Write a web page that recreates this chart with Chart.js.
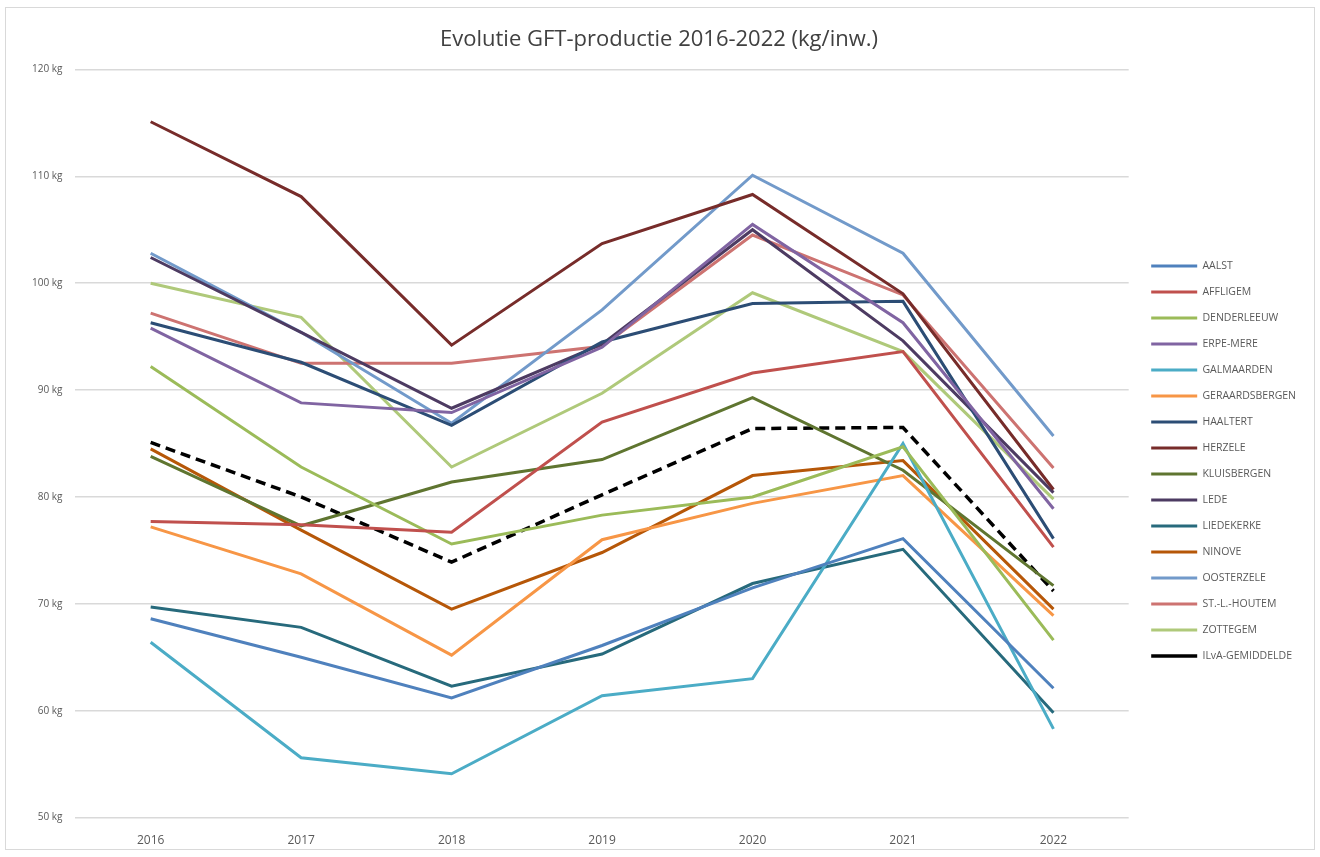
<!DOCTYPE html>
<html>
<head>
<meta charset="utf-8">
<script src="https://cdn.jsdelivr.net/npm/chart.js@4/dist/chart.umd.min.js"></script>
<style>
    body { margin: 0; background: #fff; }
    #frame { position: absolute; left: 5px; top: 7px; width: 1310px; height: 843px; border: 1px solid #d9d9d9; box-sizing: border-box; }
    #wrap { position: absolute; left: 0; top: 0; width: 1320px; height: 857px; }
</style>
</head>
<body>
<div id="frame"></div>
<div id="wrap"><canvas id="gft" width="1320" height="857"></canvas></div>
<script>
// Years on the x axis
let years = ['2016', '2017', '2018', '2019', '2020', '2021', '2022'];

// kg GFT per inhabitant
let aalst = [68.6, 65.0, 61.2, 66.1, 71.5, 76.1, 62.1];
let affligem = [77.7, 77.4, 76.7, 87.0, 91.6, 93.6, 75.3];
let denderleeuw = [92.2, 82.8, 75.6, 78.3, 80.0, 84.7, 66.6];
let erpeMere = [95.8, 88.8, 87.9, 94.0, 105.5, 96.3, 78.9];
let galmaarden = [66.4, 55.6, 54.1, 61.4, 63.0, 85.0, 58.3];
let geraardsbergen = [77.2, 72.8, 65.2, 76.0, 79.4, 82.0, 68.9];
let haaltert = [96.3, 92.6, 86.7, 94.5, 98.1, 98.3, 76.1];
let herzele = [115.1, 108.1, 94.2, 103.7, 108.3, 99.0, 80.7];
let kluisbergen = [83.8, 77.3, 81.4, 83.5, 89.3, 82.5, 71.7];
let lede = [102.4, 95.4, 88.3, 94.3, 105.0, 94.6, 80.4];
let liedekerke = [69.7, 67.8, 62.3, 65.3, 71.9, 75.1, 59.8];
let ninove = [84.5, 76.9, 69.5, 74.8, 82.0, 83.4, 69.5];
let oosterzele = [102.8, 95.4, 86.9, 97.5, 110.1, 102.8, 85.7];
let stLHoutem = [97.2, 92.5, 92.5, 94.1, 104.5, 98.9, 82.7];
let zottegem = [100.0, 96.8, 82.8, 89.7, 99.1, 93.6, 79.8];
let ilvaGemiddelde = [85.1, 80.0, 73.9, 80.2, 86.4, 86.5, 71.2];

let yMin = 50;
let yMax = 120;
let yStep = 10;

function lineSet(label, data, colour) {
    return {
        label: label,
        data: data,
        borderColor: colour,
        backgroundColor: colour,
        borderWidth: 3,
        pointRadius: 0,
        tension: 0
    };
}

let datasets = [
    lineSet('AALST', aalst, '#4F81BD'),
    lineSet('AFFLIGEM', affligem, '#C0504D'),
    lineSet('DENDERLEEUW', denderleeuw, '#9BBB59'),
    lineSet('ERPE-MERE', erpeMere, '#8064A2'),
    lineSet('GALMAARDEN', galmaarden, '#4BACC6'),
    lineSet('GERAARDSBERGEN', geraardsbergen, '#F79646'),
    lineSet('HAALTERT', haaltert, '#2C4D75'),
    lineSet('HERZELE', herzele, '#772C2A'),
    lineSet('KLUISBERGEN', kluisbergen, '#5F7530'),
    lineSet('LEDE', lede, '#4D3B62'),
    lineSet('LIEDEKERKE', liedekerke, '#276A7C'),
    lineSet('NINOVE', ninove, '#B65708'),
    lineSet('OOSTERZELE', oosterzele, '#729ACA'),
    lineSet('ST.-L.-HOUTEM', stLHoutem, '#CD7371'),
    lineSet('ZOTTEGEM', zottegem, '#AFC97A')
];

// The average is drawn as a dashed black line
let avg = lineSet('ILvA-GEMIDDELDE', ilvaGemiddelde, '#000000');
avg.borderDash = [10, 6];
avg.borderWidth = 3.5;
datasets.push(avg);

Chart.defaults.font.family = "'Open Sans', 'Liberation Sans', sans-serif";
Chart.defaults.color = '#595959';

// Nudge the legend a bit to the right and down, like in the original.
const legendNudge = {
    id: 'legendNudge',
    afterLayout(chart) {
        let lg = chart.legend;
        lg.left += 7;
        lg.right += 7;
        lg.top += 26;
        lg.bottom += 26;
    }
};

let gftChart = new Chart(document.getElementById('gft'), {
    type: 'line',
    data: {
        labels: years,
        datasets: datasets
    },
    options: {
        responsive: false,
        animation: false,
        devicePixelRatio: 1,
        layout: {
            padding: { left: 19, right: 21, top: 14, bottom: 1 }
        },
        plugins: {
            title: {
                display: true,
                text: 'Evolutie GFT-productie 2016-2022 (kg/inw.)',
                color: '#404040',
                font: { size: 22, weight: 'normal' },
                padding: { top: 13, bottom: 16 }
            },
            legend: {
                position: 'right',
                labels: {
                    usePointStyle: true,
                    pointStyle: 'line',
                    pointStyleWidth: 46,
                    boxHeight: 3,
                    padding: 15.5,
                    color: '#595959',
                    font: { size: 10.5 }
                }
            },
            tooltip: { enabled: false }
        },
        scales: {
            x: {
                offset: true,
                grid: { display: false },
                border: { display: false },
                ticks: { font: { size: 12 }, padding: 8, maxRotation: 0 }
            },
            y: {
                min: yMin,
                max: yMax,
                border: { display: false },
                grid: { color: '#d9d9d9', lineWidth: 1.5, drawTicks: false },
                ticks: {
                    stepSize: yStep,
                    padding: 13,
                    font: { size: 10 },
                    callback: (value) => value + ' kg'
                }
            }
        }
    },
    plugins: [legendNudge]
});
</script>
</body>
</html>
